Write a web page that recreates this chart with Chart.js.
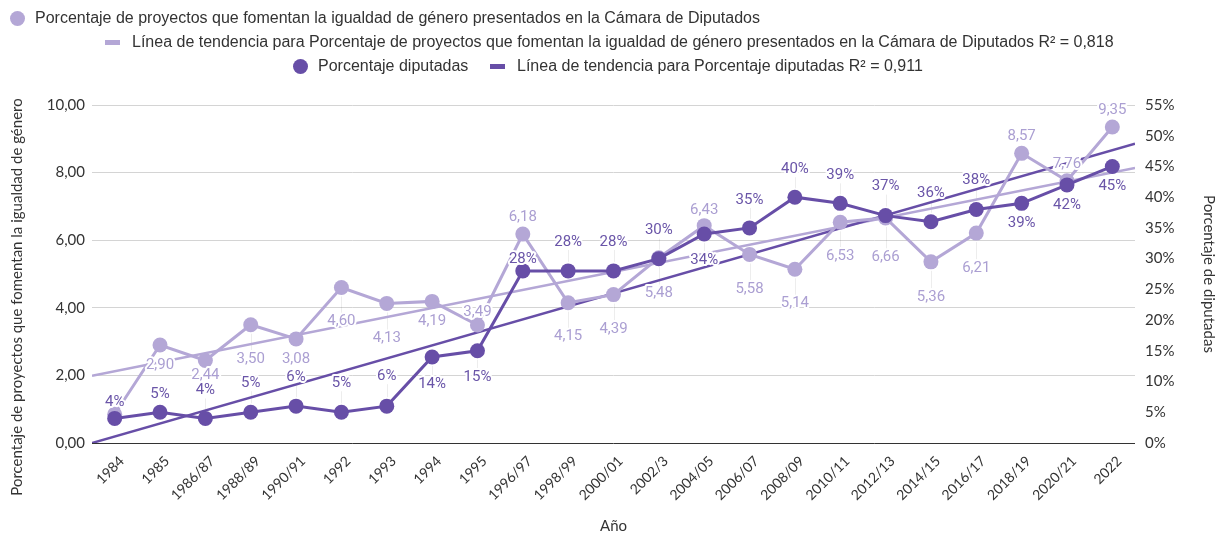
<!DOCTYPE html>
<html>
<head>
<meta charset="utf-8">
<title>Proyectos de igualdad de género y diputadas</title>
<script src="https://cdn.jsdelivr.net/npm/chart.js"></script>
<style>
    body {
        margin: 0;
        background: #fff;
        font-family: Roboto, sans-serif;
    }
    .wrap {
        position: relative;
        width: 1218px;
        height: 536px;
    }
    .item {
        position: absolute;
        display: flex;
        align-items: center;
        white-space: nowrap;
        font-family: "Liberation Sans", Arial, sans-serif;
        font-size: 16px;
        color: #333;
        height: 20px;
    }
    .dot {
        width: 15px;
        height: 15px;
        border-radius: 50%;
        margin-right: 10px;
    }
    .dash {
        width: 15px;
        height: 5px;
        margin-right: 12px;
    }
    .precarga {
        position: absolute;
        left: -9999px;
        top: 0;
    }
</style>
</head>
<body>
<div class="wrap">
    <canvas id="grafico"></canvas>
    <div class="item" style="left:10px; top:8px;"><span class="dot" style="background:#b4a7d6"></span>Porcentaje de proyectos que fomentan la igualdad de género presentados en la Cámara de Diputados</div>
    <div class="item" style="left:105px; top:32px;"><span class="dash" style="background:#b4a7d6"></span>Línea de tendencia para Porcentaje de proyectos que fomentan la igualdad de género presentados en la Cámara de Diputados R² = 0,818</div>
    <div class="item" style="left:293px; top:56px;"><span class="dot" style="background:#674ea7"></span>Porcentaje diputadas</div>
    <div class="item" style="left:490px; top:56px;"><span class="dash" style="background:#674ea7"></span>Línea de tendencia para Porcentaje diputadas R² = 0,911</div>
</div>
<span class="precarga" style="font-family:Lato">0,00 %</span>
<span class="precarga" style="font-family:Roboto">0,00 %</span>

<script>
    const categorias = ['1984', '1985', '1986/87', '1988/89', '1990/91', '1992', '1993', '1994', '1995', '1996/97',
        '1998/99', '2000/01', '2002/3', '2004/05', '2006/07', '2008/09', '2010/11', '2012/13', '2014/15',
        '2016/17', '2018/19', '2020/21', '2022'];
    const proyectos = [0.85, 2.90, 2.44, 3.50, 3.08, 4.60, 4.13, 4.19, 3.49, 6.18, 4.15, 4.39, 5.48, 6.43,
        5.58, 5.14, 6.53, 6.66, 5.36, 6.21, 8.57, 7.76, 9.35];
    const diputadas = [4, 5, 4, 5, 6, 5, 6, 14, 15, 28, 28, 28, 30, 34, 35, 40, 39, 37, 36, 38, 39, 42, 45];
    // extremos de las lineas de tendencia
    const tendenciaProyectos = [1.99, 8.14];
    const tendenciaDiputadas = [0, 48.7];
    const ticksIzq = [0, 2, 4, 6, 8, 10];
    const ticksDer = [0, 5, 10, 15, 20, 25, 30, 35, 40, 45, 50, 55];

    // desplazamiento vertical de cada etiqueta (px), negativo = arriba
    const despProyectos = [null, 20, 15, 35, 20, 34, 35, 20, -13, -17, 34, 35, 35, -15, 35, 34, 34, 39, 35, 35, -17, -16, -17];
    const despDiputadas = [-16, -18, -28, -29, -29, -29, -30, 27, 26, -12, -29, -29, -28, 26, -28, -28, -28, -29, -29, -29, 20, 20, 20];

    const claro = '#b4a7d6';
    const oscuro = '#674ea7';
    const xTend = [-0.5, categorias.length - 0.5];
    const fuenteEje = { family: 'Lato', size: 15 };
    const tituloIzq = 'Porcentaje de proyectos que fomentan la igualdad de género';

    const etiquetas = {
        id: 'etiquetas',
        beforeDatasetsDraw(chart) {
            const ctx = chart.ctx;
            ctx.save();
            ctx.strokeStyle = 'rgba(0,0,0,0.07)';
            ctx.lineWidth = 1;
            chart.data.datasets.forEach((ds, i) => {
                if (!ds.desp) return;
                chart.getDatasetMeta(i).data.forEach((pt, j) => {
                    const dy = ds.desp[j];
                    if (dy == null || Math.abs(dy) < 24) return;
                    const s = Math.sign(dy);
                    ctx.beginPath();
                    ctx.moveTo(Math.round(pt.x) + 0.5, pt.y + s * 9);
                    ctx.lineTo(Math.round(pt.x) + 0.5, pt.y + dy - s * 8);
                    ctx.stroke();
                });
            });
            ctx.restore();
        },
        afterDatasetsDraw(chart) {
            const ctx = chart.ctx;
            ctx.save();
            ctx.font = '15px Roboto';
            ctx.textAlign = 'center';
            ctx.textBaseline = 'middle';
            ctx.lineJoin = 'round';
            chart.data.datasets.forEach((ds, i) => {
                if (!ds.desp) return;
                chart.getDatasetMeta(i).data.forEach((pt, j) => {
                    const dy = ds.desp[j];
                    if (dy == null) return;
                    const txt = ds.formato(ds.data[j].y);
                    ctx.lineWidth = 4;
                    ctx.strokeStyle = '#fff';
                    ctx.strokeText(txt, pt.x, pt.y + dy);
                    ctx.fillStyle = ds.colorEtiqueta;
                    ctx.fillText(txt, pt.x, pt.y + dy);
                });
            });
            ctx.restore();
        },
        afterDraw(chart) {
            // titulo del eje izquierdo, algo mas bajo que el centro como en el original
            const ctx = chart.ctx;
            const a = chart.chartArea;
            ctx.save();
            ctx.translate(17, (a.top + a.bottom) / 2 + 23);
            ctx.rotate(-Math.PI / 2);
            ctx.font = '15px Lato';
            ctx.fillStyle = '#333';
            ctx.textAlign = 'center';
            ctx.textBaseline = 'middle';
            ctx.fillText(tituloIzq, 0, 0);
            ctx.restore();
        }
    };

    function dibujar() {
        new Chart(document.getElementById('grafico'), {
            type: 'line',
            data: {
                datasets: [{
                    label: 'Porcentaje diputadas',
                    data: diputadas.map((v, i) => ({ x: i, y: v })),
                    yAxisID: 'yDer',
                    borderColor: oscuro,
                    backgroundColor: oscuro,
                    borderWidth: 3,
                    pointRadius: 7.5,
                    pointBorderWidth: 0,
                    desp: despDiputadas,
                    colorEtiqueta: '#6a55a8',
                    formato: v => Math.round(v) + '%',
                    order: 0
                }, {
                    label: 'Porcentaje de proyectos que fomentan la igualdad de género presentados en la Cámara de Diputados',
                    data: proyectos.map((v, i) => ({ x: i, y: v })),
                    yAxisID: 'yIzq',
                    borderColor: claro,
                    backgroundColor: claro,
                    borderWidth: 3,
                    pointRadius: 7.5,
                    pointBorderWidth: 0,
                    desp: despProyectos,
                    colorEtiqueta: '#ab9fd2',
                    formato: v => v.toFixed(2).replace('.', ','),
                    order: 1
                }, {
                    label: 'Línea de tendencia para Porcentaje diputadas R² = 0,911',
                    data: tendenciaDiputadas.map((v, i) => ({ x: xTend[i], y: v })),
                    yAxisID: 'yDer',
                    borderColor: oscuro,
                    borderWidth: 2.5,
                    pointRadius: 0,
                    order: 2
                }, {
                    label: 'Línea de tendencia para Porcentaje de proyectos que fomentan la igualdad de género presentados en la Cámara de Diputados R² = 0,818',
                    data: tendenciaProyectos.map((v, i) => ({ x: xTend[i], y: v })),
                    yAxisID: 'yIzq',
                    borderColor: claro,
                    borderWidth: 2.5,
                    pointRadius: 0,
                    order: 3
                }]
            },
            options: {
                responsive: true,
                maintainAspectRatio: false,
                animation: false,
                layout: { padding: { top: 105 } },
                plugins: {
                    legend: { display: false },
                    tooltip: { enabled: false }
                },
                scales: {
                    x: {
                        type: 'linear',
                        min: -0.5,
                        max: categorias.length - 0.5,
                        afterBuildTicks: axis => { axis.ticks = categorias.map((c, i) => ({ value: i })); },
                        afterFit: s => { s.height = 93; },
                        grid: { display: false, drawTicks: false },
                        border: { display: false },
                        ticks: {
                            autoSkip: false,
                            minRotation: 45,
                            maxRotation: 45,
                            padding: 10,
                            labelOffset: 7,
                            color: '#333',
                            font: { family: 'Lato', size: 14 },
                            callback: v => categorias[v]
                        },
                        title: {
                            display: true,
                            text: 'Año',
                            color: '#333',
                            font: fuenteEje,
                            padding: { top: 0, bottom: 1 }
                        }
                    },
                    yIzq: {
                        position: 'left',
                        min: 0,
                        max: 10,
                        afterBuildTicks: axis => { axis.ticks = ticksIzq.map(v => ({ value: v })); },
                        afterFit: s => { s.width = 92; },
                        grid: {
                            drawTicks: false,
                            color: c => c.tick.value === 0 ? '#333' : '#d4d4d4'
                        },
                        border: { display: false },
                        ticks: {
                            padding: 7,
                            color: '#333',
                            font: fuenteEje,
                            callback: v => v.toFixed(2).replace('.', ',')
                        },
                        title: { display: false }
                    },
                    yDer: {
                        position: 'right',
                        min: 0,
                        max: 55,
                        afterBuildTicks: axis => { axis.ticks = ticksDer.map(v => ({ value: v })); },
                        afterFit: s => { s.width = 83; },
                        grid: { display: false, drawTicks: false },
                        border: { display: false },
                        ticks: {
                            padding: 10,
                            color: '#333',
                            font: fuenteEje,
                            callback: v => v + '%'
                        },
                        title: {
                            display: true,
                            text: 'Porcentaje de diputadas',
                            color: '#333',
                            font: fuenteEje,
                            padding: { top: 0, bottom: 6 }
                        }
                    }
                }
            },
            plugins: [etiquetas]
        });
    }

    Promise.all(['15px Lato', '15px Roboto'].map(f => document.fonts.load(f)))
        .then(dibujar, dibujar);
</script>
</body>
</html>
